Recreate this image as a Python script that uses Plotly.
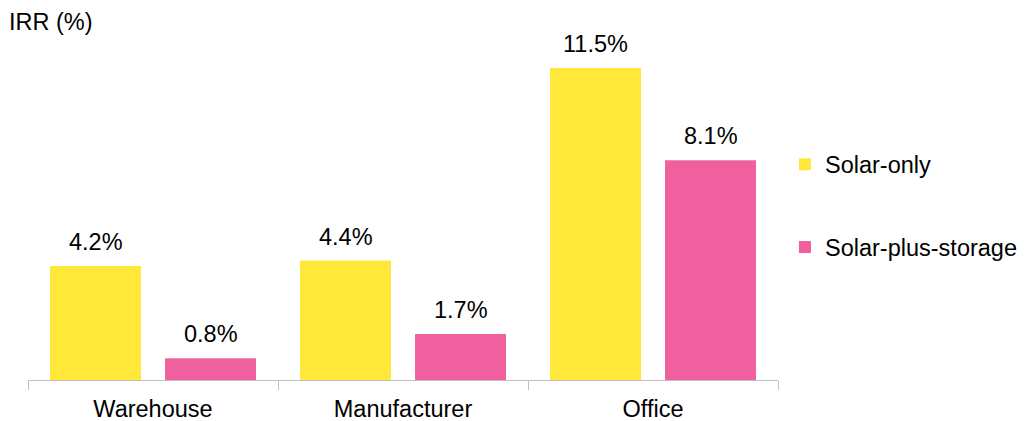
import plotly.graph_objects as go

categories = ["Warehouse", "Manufacturer", "Office"]
solar_only = [4.2, 4.4, 11.5]
solar_plus_storage = [0.8, 1.7, 8.1]
series_names = ["Solar-only", "Solar-plus-storage"]
colors = ["#FFE83A", "#F0609E"]

FONT = "Liberation Sans, Arial, sans-serif"
FS = 23.5

fig = go.Figure()
for i, (name, vals) in enumerate(zip(series_names, [solar_only, solar_plus_storage])):
    fig.add_trace(go.Bar(
        x=categories, y=vals, name=name, marker_color=colors[i],
        marker_line_width=0, legendgroup=name,
    ))

# value labels
shifts = [-57.5, 57.5]
for i, vals in enumerate([solar_only, solar_plus_storage]):
    for c, v in zip(categories, vals):
        fig.add_annotation(x=c, y=v, text=f"{v:.1f}%", showarrow=False,
                           xshift=shifts[i], yshift=9, yanchor="bottom",
                           font=dict(size=FS, color="#000", family=FONT))

fig.add_annotation(text="IRR (%)", xref="paper", yref="paper", x=-0.028, y=1.023,
                   xanchor="left", yanchor="middle", showarrow=False,
                   font=dict(size=FS, color="#000", family=FONT))

# the page body adds an 8px margin, so the figure is sized to fit the 1027x421 window
fig.update_layout(
    width=1019, height=413,
    margin=dict(l=20, r=249, t=22, b=41, autoexpand=False),
    paper_bgcolor="white", plot_bgcolor="white",
    barmode="group", bargap=0.08, bargroupgap=0.209,
    font=dict(family=FONT, size=FS, color="#000"),
    showlegend=True,
    legend=dict(x=1.0093, y=0.497, xanchor="left", yanchor="middle",
                tracegroupgap=49, itemwidth=30,
                font=dict(size=FS, color="#000", family=FONT)),
    xaxis=dict(showline=True, linecolor="#BFBFBF", linewidth=1, automargin=False,
               ticks="outside", tickson="boundaries", ticklen=9, tickcolor="#BFBFBF",
               ticklabelstandoff=8,
               tickfont=dict(size=FS, color="#000", family=FONT), showgrid=False),
    yaxis=dict(range=[0, 12.9], visible=False, showgrid=False, zeroline=False,
               automargin=False),
)

fig.write_html("out.html")
